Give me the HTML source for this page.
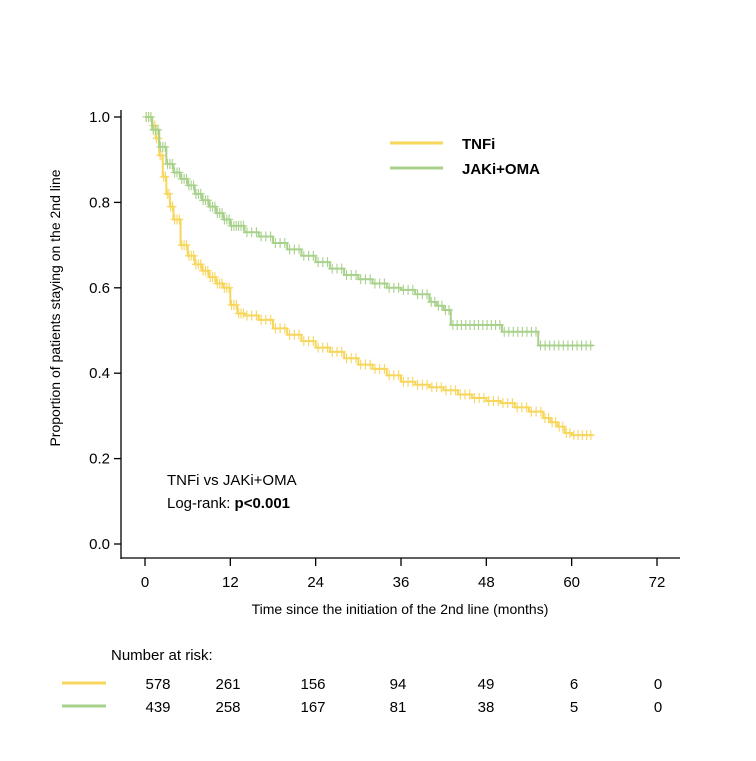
<!DOCTYPE html>
<html><head><meta charset="utf-8"><style>
body{margin:0;background:#fff;}
svg text{font-family:"Liberation Sans",sans-serif;}
</style></head><body>
<svg id="c" width="756" height="756" viewBox="0 0 756 756"></svg>
<script>
const xTicks=[0,12,24,36,48,60,72];
const yTicks=[0.0,0.2,0.4,0.6,0.8,1.0];
const tnfT=[0,1,1.5,2,2.5,3,3.5,4,5,6,7,8,9,10,11,12,13,14,16,18,20,22,24,26,28,30,32,34,36,38,40,42,44,46,48,50,52,54,56,57,58,59,60,63];
const tnfS=[1,0.98,0.95,0.91,0.86,0.82,0.79,0.76,0.7,0.675,0.655,0.64,0.625,0.61,0.6,0.56,0.54,0.535,0.525,0.505,0.49,0.475,0.46,0.45,0.435,0.42,0.41,0.395,0.38,0.373,0.367,0.36,0.35,0.342,0.335,0.33,0.32,0.31,0.295,0.285,0.275,0.26,0.255,0.255];
const jakT=[0,1,2,3,4,5,6,7,8,9,10,11,12,14,16,18,20,22,24,26,28,30,32,34,36,38,40,41,42,43,50.2,55.3,63];
const jakS=[1,0.97,0.93,0.89,0.87,0.855,0.84,0.82,0.805,0.79,0.775,0.76,0.745,0.73,0.72,0.705,0.69,0.675,0.66,0.645,0.63,0.62,0.61,0.6,0.595,0.585,0.567,0.558,0.548,0.513,0.497,0.465,0.465];
const riskTnf=[578,261,156,94,49,6,0];
const riskJak=[439,258,167,81,38,5,0];
const x=t=>145+t*(512/72);
const y=s=>544-s*427;
const svg=document.getElementById('c');
const NS='http://www.w3.org/2000/svg';
function mk(tag,at,parent){const e=document.createElementNS(NS,tag);for(const k in at)e.setAttribute(k,at[k]);(parent||svg).appendChild(e);return e;}
let e=mk('line',{x1:121,y1:110,x2:121,y2:559,stroke:'#000','stroke-width':1.3});


e=mk('line',{x1:121,y1:558,x2:680,y2:558,stroke:'#000','stroke-width':1.3});


yTicks.forEach(v=>{
 mk('line',{x1:114,x2:121,y1:y(v),y2:y(v),stroke:'#000','stroke-width':1.3});
 e=mk('text',{x:110,y:y(v)+5,'text-anchor':'end','font-size':15});e.textContent=v.toFixed(1);
 
 
});
xTicks.forEach(v=>{
 mk('line',{x1:x(v),x2:x(v),y1:558,y2:566,stroke:'#000','stroke-width':1.3});
 e=mk('text',{x:x(v),y:587,'text-anchor':'middle','font-size':15});e.textContent=v;
 
 
});
e=mk('text',{x:400,y:614,'text-anchor':'middle','font-size':14});e.textContent='Time since the initiation of the 2nd line (months)';


e=mk('text',{x:0,y:0,transform:'translate(60,308) rotate(-90)','text-anchor':'middle','font-size':14});e.textContent='Proportion of patients staying on the 2nd line';


function curve(T,S,col,name){
 let d='M'+x(T[0])+','+y(S[0]);
 for(let i=1;i<T.length;i++){d+=' H'+x(T[i])+' V'+y(S[i]);}
 const g=mk('g',{});
 
 
 mk('path',{d:d,fill:'none',stroke:col,'stroke-width':2},g);
 for(let i=0;i<T.length-1;i++){
  const n=Math.max(2,Math.round((T[i+1]-T[i])*(T[i]<14?3:1.6)));
  for(let k=0;k<n;k++){
   const t=T[i]+(T[i+1]-T[i])*(k+0.5)/n;
   const cx=x(t),cy=y(S[i]);
   mk('path',{d:`M${cx-4},${cy}H${cx+4}M${cx},${cy-5}V${cy+5}`,stroke:col,'stroke-width':1.1},g);
  }
 }
}
curve(tnfT,tnfS,'#f7d65c','tnfi-curve');
curve(jakT,jakS,'#a8d18c','jaki-oma-curve');
e=mk('line',{x1:390,x2:443,y1:143,y2:143,stroke:'#f7d65c','stroke-width':3});


e=mk('text',{x:462,y:149,'font-size':15,'font-weight':'bold'});e.textContent='TNFi';


e=mk('line',{x1:390,x2:443,y1:168,y2:168,stroke:'#a8d18c','stroke-width':3});


e=mk('text',{x:462,y:174,'font-size':15,'font-weight':'bold'});e.textContent='JAKi+OMA';


e=mk('text',{x:167,y:485,'font-size':15});e.textContent='TNFi vs JAKi+OMA';


e=mk('text',{x:167,y:508,'font-size':15});e.innerHTML='Log-rank: <tspan font-weight="bold">p&lt;0.001</tspan>';


e=mk('text',{x:111,y:660,'font-size':15});e.textContent='Number at risk:';


e=mk('line',{x1:62,x2:106,y1:683,y2:683,stroke:'#f7d65c','stroke-width':3});


e=mk('line',{x1:62,x2:106,y1:706,y2:706,stroke:'#a8d18c','stroke-width':3});


const cols=[158,228,313,398,486,574,658];
riskTnf.forEach((v,i)=>{e=mk('text',{x:cols[i],y:689,'text-anchor':'middle','font-size':15});e.textContent=v;
 
 });
riskJak.forEach((v,i)=>{e=mk('text',{x:cols[i],y:712,'text-anchor':'middle','font-size':15});e.textContent=v;
 
 });
</script>
</body></html>
